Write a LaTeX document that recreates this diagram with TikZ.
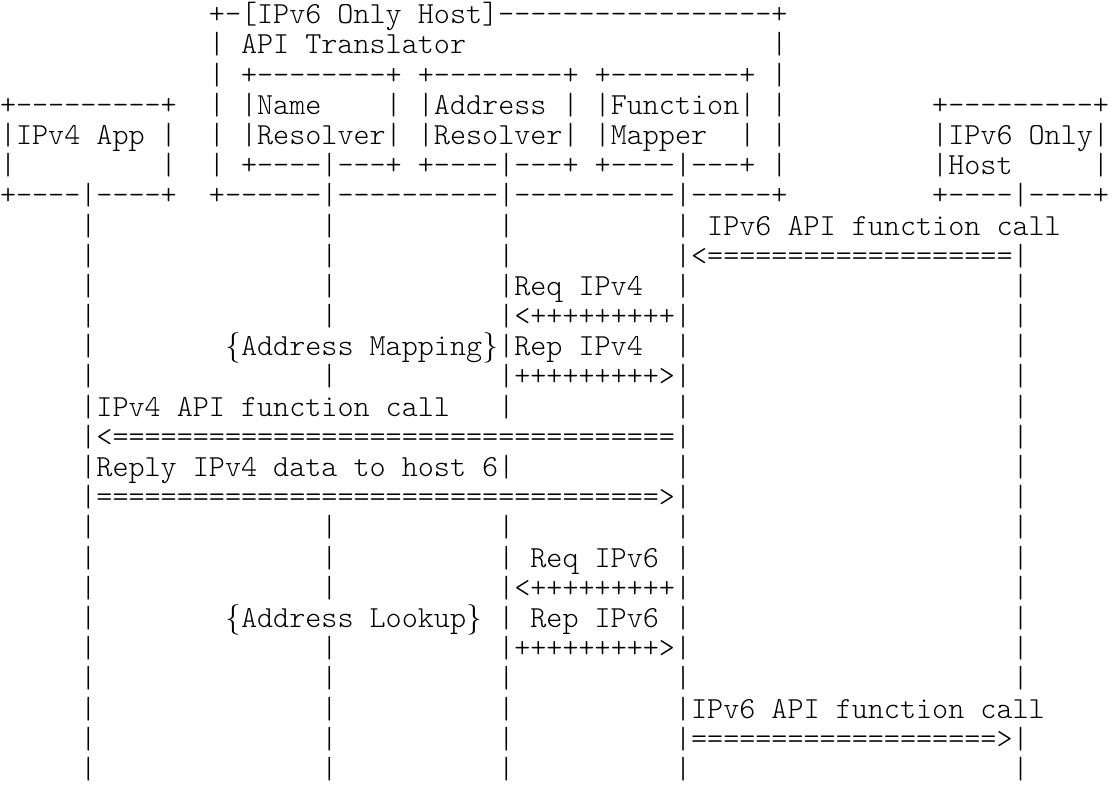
\documentclass[tikz,border=0pt]{standalone}
\makeatletter
\newcommand\xrep[2]{\ifnum#1>0 #2\expandafter\@firstofone\else\expandafter\@gobble\fi{\expandafter\xrep\expandafter{\the\numexpr#1-1\relax}{#2}}}
\makeatother
\newcommand\xs[1]{\xrep{#1}{~}}
\newcommand\xd[1]{\xrep{#1}{-\kern0pt}}
\newcommand\xe[1]{\xrep{#1}{=}}
\newcommand\xp[1]{\xrep{#1}{+}}
\newcommand\xob{\makebox[6pt]{\fontseries{m}\rmfamily\{}}
\newcommand\xcb{\makebox[6pt]{\fontseries{m}\rmfamily\}}}
\tikzset{asciirow/.style={anchor=base west, inner sep=0pt, outer sep=0pt, text=black,
  font=\fontsize{11.4286pt}{12pt}\ttfamily\fontseries{l}\selectfont}}
\newcommand\xrow[2]{\node[asciirow] (r#1) at (0pt,{-((#1)-0.5)*11.271pt-3.2pt}) {#2};}
\newcommand\xpre{\xs5|\xs{14}|\xs{10}|\xs{10}|}
\begin{document}
\begin{tikzpicture}
\fill[white] (0,0) rectangle (414pt,-293.05pt);
\useasboundingbox (0,0) rectangle (414pt,-293.05pt);
\xrow{1}{\xs{13}+\xd{1}[IPv6~Only~Host]\xd{17}+}
\xrow{2}{\xs{13}|~API~Translator\xs{19}|}
\xrow{3}{\xs{13}|~+\xd8+~+\xd8+~+\xd8+~|}
\xrow{4}{+\xd9+\xs2|~|Name\xs4|~|Address~|~|Function|~|\xs9+\xd9+}
\xrow{5}{|IPv4~App~|\xs2|~|Resolver|~|Resolver|~|Mapper\xs2|~|\xs9|IPv6~Only|}
\xrow{6}{|\xs9|\xs2|~+\xd4|\xd3+~+\xd4|\xd3+~+\xd4|\xd3+~|\xs9|Host\xs5|}
\xrow{7}{+\xd4|\xd4+\xs2+\xd6|\xd{10}|\xd{10}|\xd5+\xs9+\xd4|\xd4+}
\xrow{8}{\xpre~IPv6~API~function~call}
\xrow{9}{\xpre<\xe{19}|}
\xrow{10}{\xs5|\xs{14}|\xs{10}|Req~IPv4\xs2|\xs{20}|}
\xrow{11}{\xs5|\xs{14}|\xs{10}|<\xp9|\xs{20}|}
\xrow{12}{\xs5|\xs8\xob Address~Mapping\xcb|Rep~IPv4\xs2|\xs{20}|}
\xrow{13}{\xs5|\xs{14}|\xs{10}|\xp9>|\xs{20}|}
\xrow{14}{\xs5|IPv4~API~function~call\xs3|\xs{10}|\xs{20}|}
\xrow{15}{\xs5|<\xe{35}|\xs{20}|}
\xrow{16}{\xs5|Reply~IPv4~data~to~host~6|\xs{10}|\xs{20}|}
\xrow{17}{\xs5|\xe{35}>|\xs{20}|}
\xrow{18}{\xpre\xs{20}|}
\xrow{19}{\xs5|\xs{14}|\xs{10}|~Req~IPv6~|\xs{20}|}
\xrow{20}{\xs5|\xs{14}|\xs{10}|<\xp9|\xs{20}|}
\xrow{21}{\xs5|\xs8\xob Address~Lookup\xcb~|~Rep~IPv6~|\xs{20}|}
\xrow{22}{\xs5|\xs{14}|\xs{10}|\xp9>|\xs{20}|}
\xrow{23}{\xpre\xs{20}|}
\xrow{24}{\xpre IPv6~API~function~call}
\xrow{25}{\xpre\xe{19}>|}
\xrow{26}{\xpre\xs{20}|}
\end{tikzpicture}
\end{document}
